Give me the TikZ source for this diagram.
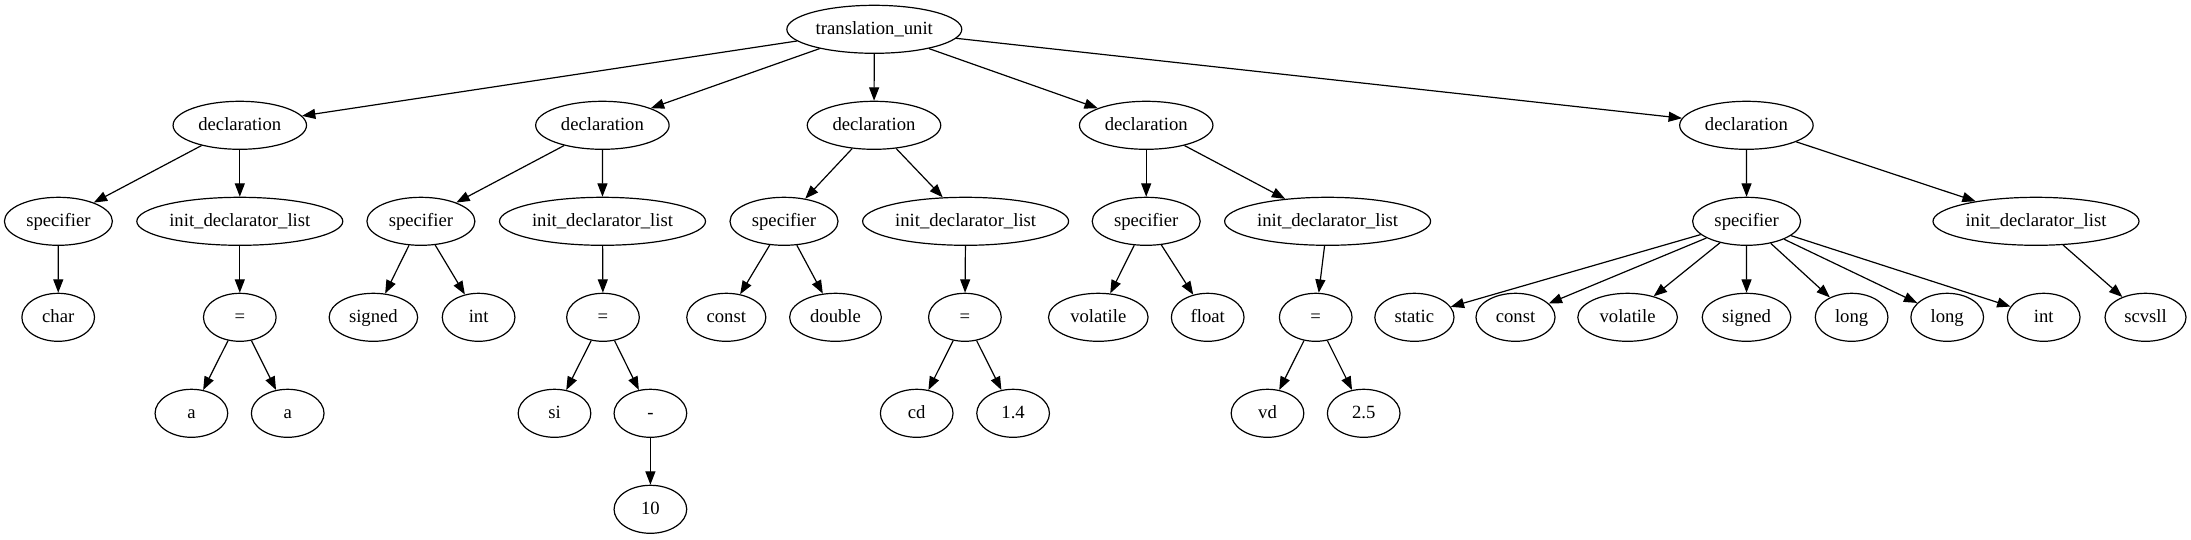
\documentclass[tikz,border=0pt]{standalone}
\usepackage{fontspec}
\setmainfont{Liberation Serif}
\usetikzlibrary{shapes.geometric,arrows.meta}
\newcommand{\lbl}[1]{\makebox[0pt]{\rule[-4.3pt]{0pt}{16pt}#1}}
\tikzset{
  nd/.style={draw, ellipse, inner sep=0pt, minimum height=36pt, line width=0.9pt,
    font=\fontsize{14pt}{16pt}\selectfont},
  wtu/.style={nd, minimum width=131.2pt},
  wdecl/.style={nd, minimum width=100.1pt},
  wspec/.style={nd, minimum width=81pt},
  winit/.style={nd, minimum width=154.5pt},
  wsm/.style={nd, minimum width=54.5pt},
  wsigned/.style={nd, minimum width=66.4pt},
  wdouble/.style={nd, minimum width=68.8pt},
  wconst/.style={nd, minimum width=59.3pt},
  wvol/.style={nd, minimum width=74.7pt},
  wstatic/.style={nd, minimum width=59.4pt},
  wscv/.style={nd, minimum width=60.75pt},
  edge/.style={draw, line width=0.9pt, -{Triangle[length=10pt,width=7.5pt]}}
}
\begin{document}
\begin{tikzpicture}[x=0.75pt, y=-0.75pt]
\useasboundingbox (0,0) rectangle (2191,539);
% rows: 29.3, 125.3, 221.3, 317.3, 413.3, 509.3
\node[wtu] (tu) at (874.3,29.3) {\lbl{translation\_unit}};
\node[wdecl] (d1) at (239.8,125.3) {\lbl{declaration}};
\node[wdecl] (d2) at (602.4,125.3) {\lbl{declaration}};
\node[wdecl] (d3) at (874.0,125.3) {\lbl{declaration}};
\node[wdecl] (d4) at (1146.2,125.3) {\lbl{declaration}};
\node[wdecl] (d5) at (1746.4,125.3) {\lbl{declaration}};

\node[wspec] (s1) at (58.4,221.3) {\lbl{specifier}};
\node[winit] (i1) at (239.8,221.3) {\lbl{init\_declarator\_list}};
\node[wspec] (s2) at (420.9,221.3) {\lbl{specifier}};
\node[winit] (i2) at (602.5,221.3) {\lbl{init\_declarator\_list}};
\node[wspec] (s3) at (784.0,221.3) {\lbl{specifier}};
\node[winit] (i3) at (965.6,221.3) {\lbl{init\_declarator\_list}};
\node[wspec] (s4) at (1146.2,221.3) {\lbl{specifier}};
\node[winit] (i4) at (1327.6,221.3) {\lbl{init\_declarator\_list}};
\node[wspec] (s5) at (1746.6,221.3) {\lbl{specifier}};
\node[winit] (i5) at (2036.0,221.3) {\lbl{init\_declarator\_list}};

\node[wsm] (char) at (58.2,317.3) {\lbl{char}};
\node[wsm] (e1) at (239.8,317.3) {\lbl{=}};
\node[wsigned] (sg2) at (373.4,317.3) {\lbl{signed}};
\node[wsm] (int2) at (478.6,317.3) {\lbl{int}};
\node[wsm] (e2) at (603.0,317.3) {\lbl{=}};
\node[wconst] (c3) at (726.3,317.3) {\lbl{const}};
\node[wdouble] (db3) at (835.5,317.3) {\lbl{double}};
\node[wsm] (e3) at (964.9,317.3) {\lbl{=}};
\node[wvol] (v4) at (1098.3,317.3) {\lbl{volatile}};
\node[wsm] (fl4) at (1207.7,317.3) {\lbl{float}};
\node[wsm] (e4) at (1315.7,317.3) {\lbl{=}};
\node[wstatic] (st5) at (1414.4,317.3) {\lbl{static}};
\node[wconst] (c5) at (1515.5,317.3) {\lbl{const}};
\node[wvol] (v5) at (1627.6,317.3) {\lbl{volatile}};
\node[wsigned] (sg5) at (1746.5,317.3) {\lbl{signed}};
\node[wsm] (l5a) at (1851.6,317.3) {\lbl{long}};
\node[wsm] (l5b) at (1947.2,317.3) {\lbl{long}};
\node[wsm] (int5) at (2043.7,317.3) {\lbl{int}};
\node[wscv] (scv) at (2145.5,317.3) {\lbl{scvsll}};

\node[wsm] (a1) at (191.4,413.3) {\lbl{a}};
\node[wsm] (a2) at (287.7,413.3) {\lbl{a}};
\node[wsm] (si) at (554.5,413.3) {\lbl{si}};
\node[wsm] (mi) at (650.4,413.3) {\lbl{-}};
\node[wsm] (cd) at (916.7,413.3) {\lbl{cd}};
\node[wsm] (n14) at (1013.1,413.3) {\lbl{1.4}};
\node[wsm] (vd) at (1267.5,413.3) {\lbl{vd}};
\node[wsm] (n25) at (1363.7,413.3) {\lbl{2.5}};

\node[wsm] (n10) at (650.4,509.3) {\lbl{10}};

\foreach \a/\b in {tu/d1,tu/d2,tu/d3,tu/d4,tu/d5,
  d1/s1,d1/i1,d2/s2,d2/i2,d3/s3,d3/i3,d4/s4,d4/i4,d5/s5,d5/i5,
  s1/char,i1/e1,s2/sg2,s2/int2,i2/e2,s3/c3,s3/db3,i3/e3,s4/v4,s4/fl4,i4/e4,
  s5/st5,s5/c5,s5/v5,s5/sg5,s5/l5a,s5/l5b,s5/int5,i5/scv,
  e1/a1,e1/a2,e2/si,e2/mi,e3/cd,e3/n14,e4/vd,e4/n25,mi/n10}
  \draw[edge] (\a) -- (\b);
\end{tikzpicture}
\end{document}
